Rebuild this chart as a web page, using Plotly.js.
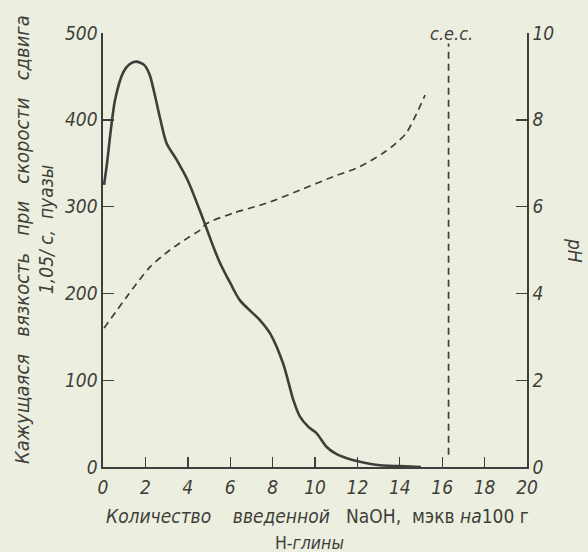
<!DOCTYPE html>
<html>
<head>
<meta charset="utf-8">
<script src="https://cdn.plot.ly/plotly-3.0.1.min.js"></script>
<style>html,body{margin:0;padding:0;background:#eceedf;}#chart{width:588px;height:552px;}</style>
</head>
<body>
<div id="chart"></div>
<script>
// Apparent viscosity (poise) vs NaOH added
const viscX = [0.05,0.17,0.57,0.96,1.25,1.56,1.95,2.2,2.45,2.69,3.0,3.47,4.02,4.73,5.2,5.52,6.0,6.46,7.41,7.88,8.5,8.98,9.29,9.7,10.07,10.55,11.0,11.5,12.12,13.07,14.0,15.0];
const viscY = [325,346,423,455,464,467,463,452,428,402,373,354,329,285,254,235,212,192,169,154,119,77,58,46,39,23,15,10,6,2,1,0];
// pH vs NaOH added
const phX = [0.05,1.12,2.22,3.16,4.0,4.58,4.89,6.14,7.72,9.29,10.86,12.12,13.2,13.8,14.3,14.8,15.19];
const phY = [3.2,3.92,4.61,5.0,5.28,5.46,5.61,5.85,6.08,6.38,6.69,6.92,7.23,7.45,7.69,8.15,8.57];
// cation exchange capacity marker
const cecX = [16.3,16.3];
const cecY = [14,488];
const xTicks = [0,2,4,6,8,10,12,14,16,18,20];
const yTicks = [0,100,200,300,400,500];
const y2Ticks = [0,2,4,6,8,10];

const ink = '#3e3f3a';
const fam = '"DejaVu Sans Condensed", "Liberation Sans Narrow", sans-serif';
const tickFont = {family: fam, size: 19, color: ink, style: 'italic'};
const xTitleFont = {family: fam, size: 19, color: ink};
const xTitleFont2 = {family: fam, size: 17.5, color: ink};
const titleFontI = {family: fam, size: 20, color: ink, style: 'italic'};
const titleFontI2 = {family: fam, size: 19, color: ink, style: 'italic'};

const traces = [
  {x: viscX, y: viscY, mode: 'lines', line: {color: ink, width: 2.6, shape: 'spline', smoothing: 0.8}, hoverinfo: 'skip'},
  {x: phX, y: phY, yaxis: 'y2', mode: 'lines', line: {color: ink, width: 1.7, dash: '7px,5px', shape: 'spline', smoothing: 0.8}, hoverinfo: 'skip'},
  {x: cecX, y: cecY, mode: 'lines', line: {color: ink, width: 1.7, dash: '7px,5px'}, hoverinfo: 'skip'}
];

const layout = {
  width: 588, height: 552,
  margin: {l: 103, r: 61, t: 33, b: 85},
  paper_bgcolor: '#eceedf', plot_bgcolor: '#eceedf',
  showlegend: false,
  xaxis: {
    range: [0, 20], tickvals: xTicks, ticktext: xTicks.map(String),
    showline: true, linecolor: ink, linewidth: 1.6,
    ticks: 'inside', ticklen: 10, tickwidth: 1.4, tickcolor: ink,
    showgrid: false, zeroline: false, tickfont: tickFont, ticklabelstandoff: 3
  },
  yaxis: {
    range: [0, 500], tickvals: yTicks,
    showline: true, linecolor: ink, linewidth: 1.6,
    ticks: 'inside', ticklen: 11, tickwidth: 1.4, tickcolor: ink,
    showgrid: false, zeroline: false, tickfont: tickFont
  },
  yaxis2: {
    range: [0, 10], tickvals: y2Ticks, overlaying: 'y', side: 'right',
    showline: true, linecolor: ink, linewidth: 1.6,
    ticks: 'inside', ticklen: 11, tickwidth: 1.4, tickcolor: ink,
    showgrid: false, zeroline: false, tickfont: tickFont
  },
  annotations: [
    {x: 16.3, y: 500, xref: 'x', yref: 'y', text: 'c.e.c.', showarrow: false, xshift: 3,
     font: {family: fam, size: 18, color: ink, style: 'italic'}, yanchor: 'middle', xanchor: 'center'},
    // x axis title (two lines)
    {x: 0.507, y: 0, xref: 'paper', yref: 'paper', yshift: -49, showarrow: false, borderpad: 0,
     xanchor: 'center', yanchor: 'middle', font: xTitleFont,
     text: '<i>Количество    введенной</i>   NaOH,  мэкв <i>на</i>100 г'},
    {x: 0.488, y: 0, xref: 'paper', yref: 'paper', yshift: -76, showarrow: false, borderpad: 0,
     xanchor: 'center', yanchor: 'middle', font: xTitleFont2,
     text: 'Н-<i>глины</i>'},
    // left y axis title (two lines)
    {x: 0, y: 0.523, xref: 'paper', yref: 'paper', xshift: -81, showarrow: false, textangle: -90,
     xanchor: 'center', yanchor: 'middle', font: titleFontI,
     text: 'Кажущаяся   вязкость   при   скорости   сдвига'},
    {x: 0, y: 0.546, xref: 'paper', yref: 'paper', xshift: -57, showarrow: false, textangle: -90,
     xanchor: 'center', yanchor: 'middle', font: titleFontI2,
     text: '1,05/ с,  пуазы'},
    // right y axis title
    {x: 1, y: 0.5, xref: 'paper', yref: 'paper', xshift: 48, showarrow: false, textangle: 90,
     xanchor: 'center', yanchor: 'middle', font: titleFontI2, text: 'pH'}
  ]
};

Plotly.newPlot('chart', traces, layout, {staticPlot: true, displayModeBar: false});
</script>
</body>
</html>
